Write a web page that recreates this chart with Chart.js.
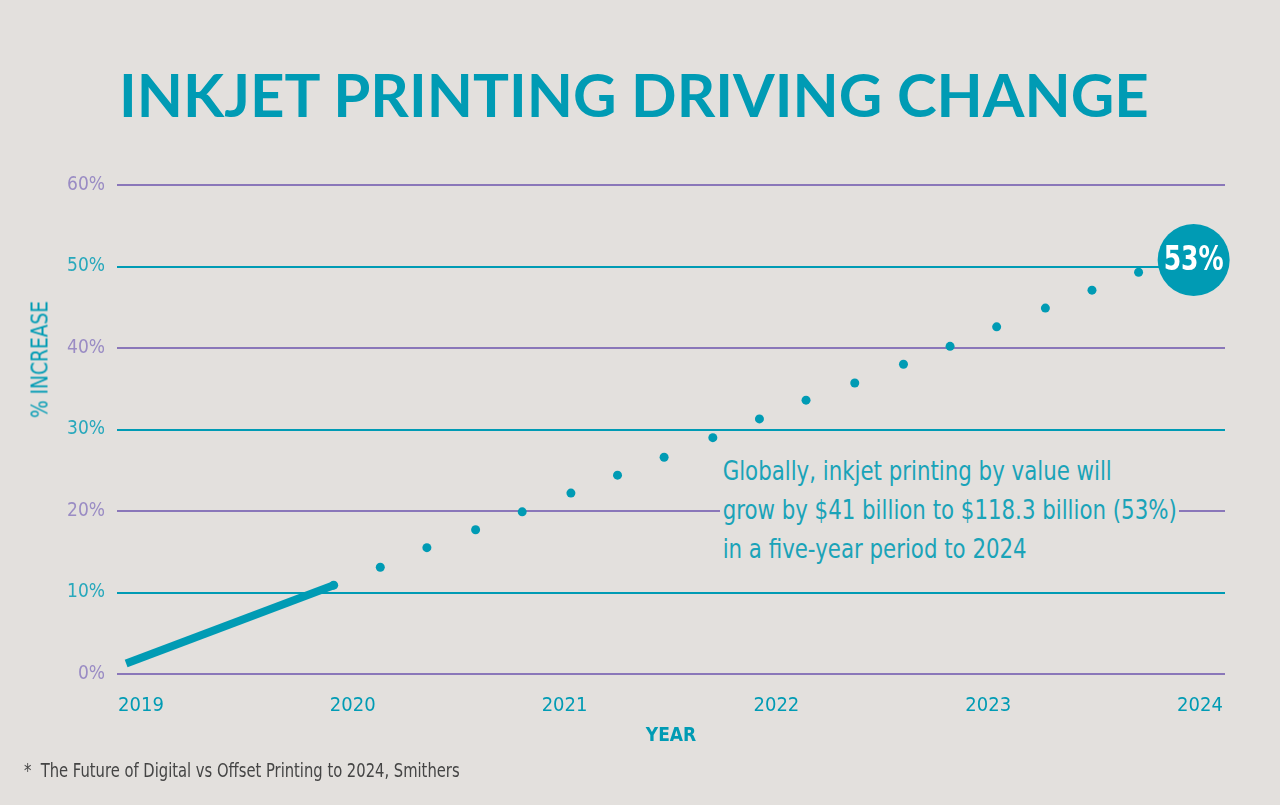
<!DOCTYPE html>
<html>
<head>
<meta charset="utf-8">
<title>Inkjet printing driving change</title>
<script src="https://cdn.jsdelivr.net/npm/chart.js@4.4.1/dist/chart.umd.min.js"></script>
<style>
  html, body { margin: 0; padding: 0; background: #e3e0dd; }
  #wrap { position: relative; width: 1280px; height: 805px; overflow: hidden; }
  #chartBox { position: absolute; left: 0; top: 0; width: 1280px; height: 805px; }
  .narrow { font-family: 'Liberation Sans Narrow', 'DejaVu Sans Condensed', Roboto, sans-serif; }
  #title {
    position: absolute; left: 119px; top: 64px;
    font: 700 60px Lato, sans-serif; line-height: 1;
    color: #009bb4; white-space: nowrap;
  }
  #yTitle {
    position: absolute; left: -40px; top: 348px; width: 160px;
    font-size: 23px; line-height: 1; text-align: center;
    color: #009bb4; transform: rotate(-90deg) scaleX(0.9); white-space: nowrap;
  }
  #note {
    position: absolute; left: 720px; top: 451px;
    padding: 0 3px; background: #e3e0dd;
    font-size: 27px; line-height: 39px; color: #1aa3b8; white-space: nowrap;
    transform: scaleX(0.878); transform-origin: 0 0;
  }
  #source {
    position: absolute; left: 24px; top: 760px;
    font-size: 20px; line-height: 1; color: #444444; white-space: nowrap;
    transform: scaleX(0.82); transform-origin: 0 0;
  }
</style>
</head>
<body>
<div id="wrap">
  <div id="chartBox"><canvas id="inkjetChart"></canvas></div>
  <div id="title">INKJET PRINTING DRIVING CHANGE</div>
  <div id="yTitle" class="narrow">% INCREASE</div>
  <div id="note" class="narrow">Globally, inkjet printing by value will<br>grow by $41 billion to $118.3 billion (53%)<br>in a five-year period to 2024</div>
  <div id="source" class="narrow">*&nbsp; The Future of Digital vs Offset Printing to 2024, Smithers</div>
</div>
<script>
// axis ticks
const yearTicks = [2019, 2020, 2021, 2022, 2023, 2024];
const pctTicks = [0, 10, 20, 30, 40, 50, 60];

// solid part (2019 -> 2020)
const actualYears = [2018.93, 2019.91];
const actualPct = [1.3, 10.9];

// dotted forecast part
const forecastYears = [2019.91, 2020.13, 2020.35, 2020.58, 2020.80, 2021.03, 2021.25, 2021.47, 2021.70,
                       2021.92, 2022.14, 2022.37, 2022.60, 2022.82, 2023.04, 2023.27, 2023.49, 2023.71];
const forecastPct = [10.9, 13.1, 15.5, 17.7, 19.9, 22.2, 24.4, 26.6, 29.0,
                     31.3, 33.6, 35.7, 38.0, 40.2, 42.6, 44.9, 47.1, 49.3];

// end bubble
const bubbleYears = [2023.97];
const bubblePct = [50.8];
const bubbleLabels = ['53%'];

const TEAL = '#009bb4';
const PURPLE = '#8a77b9';
const NARROW = "'Liberation Sans Narrow', 'DejaVu Sans Condensed', Roboto, sans-serif";

const toPoints = (xs, ys) => xs.map((x, i) => ({ x: x, y: ys[i] }));

// white "53%" inside the end bubble, squeezed a bit to look condensed
const bubbleText = {
    id: 'bubbleText',
    afterDatasetsDraw(chart) {
        const meta = chart.getDatasetMeta(2);
        const ctx = chart.ctx;
        meta.data.forEach((pt, i) => {
            ctx.save();
            ctx.translate(pt.x, pt.y + 1);
            ctx.scale(0.82, 1);
            ctx.fillStyle = '#ffffff';
            ctx.font = 'bold 34px ' + NARROW;
            ctx.textAlign = 'center';
            ctx.textBaseline = 'middle';
            ctx.fillText(bubbleLabels[i], 0, 0);
            ctx.restore();
        });
    }
};

const ctx = document.getElementById('inkjetChart').getContext('2d');
new Chart(ctx, {
    type: 'scatter',
    data: {
        datasets: [
            {
                label: 'Inkjet value growth',
                data: toPoints(actualYears, actualPct),
                showLine: true,
                borderColor: TEAL,
                borderWidth: 8,
                borderCapStyle: 'butt',
                pointRadius: 0
            },
            {
                label: 'Forecast',
                data: toPoints(forecastYears, forecastPct),
                showLine: false,
                pointRadius: 4.5,
                pointBackgroundColor: TEAL,
                pointBorderWidth: 0
            },
            {
                label: '2024',
                data: toPoints(bubbleYears, bubblePct),
                showLine: false,
                pointRadius: 36,
                pointBackgroundColor: TEAL,
                pointBorderWidth: 0,
                clip: false
            }
        ]
    },
    options: {
        responsive: true,
        maintainAspectRatio: false,
        animation: false,
        layout: { padding: { top: 185, right: 55, bottom: 0, left: 0 } },
        plugins: {
            legend: { display: false },
            tooltip: { enabled: false }
        },
        scales: {
            x: {
                type: 'linear',
                min: 2018.887,
                max: 2024.118,
                afterBuildTicks: (axis) => { axis.ticks = yearTicks.map(v => ({ value: v })); },
                afterFit: (axis) => { axis.height = 131; },
                grid: { display: false, drawTicks: false },
                border: { display: false },
                ticks: {
                    padding: 20,
                    color: TEAL,
                    font: { family: NARROW, size: 20 },
                    callback: (v) => String(v)
                },
                title: {
                    display: true,
                    text: 'YEAR',
                    color: TEAL,
                    font: { family: NARROW, size: 19, weight: 'bold' },
                    padding: { top: 0, bottom: 58 }
                }
            },
            y: {
                min: 0,
                max: 60,
                afterBuildTicks: (axis) => { axis.ticks = pctTicks.map(v => ({ value: v })); },
                afterFit: (axis) => { axis.width = 117; },
                grid: {
                    drawTicks: false,
                    lineWidth: 2,
                    color: (c) => (c.tick && c.tick.value % 20 === 0) ? PURPLE : TEAL
                },
                border: { display: false },
                ticks: {
                    padding: 12,
                    color: (c) => (c.tick && c.tick.value % 20 === 0) ? '#9a8cc4' : '#28a8bc',
                    font: { family: NARROW, size: 19 },
                    callback: (v) => v + '%'
                }
            }
        }
    },
    plugins: [bubbleText]
});
</script>
</body>
</html>
